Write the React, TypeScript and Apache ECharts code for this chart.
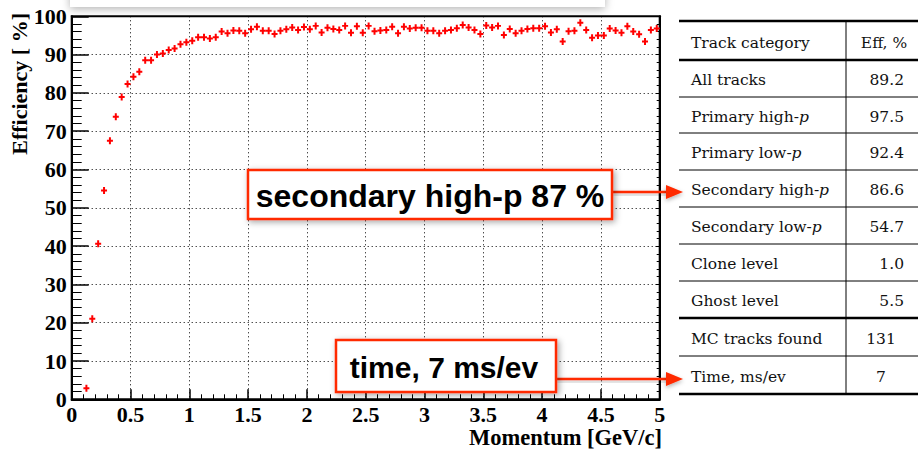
import React, { useEffect, useRef } from "react";
import * as echarts from "echarts";

// ---- data ----
const momentum = [
  0.125, 0.175, 0.225, 0.275, 0.325, 0.375, 0.425, 0.475, 0.525, 0.575,
  0.625, 0.675, 0.725, 0.775, 0.825, 0.875, 0.925, 0.975, 1.025, 1.075,
  1.125, 1.175, 1.225, 1.275, 1.325, 1.375, 1.425, 1.475, 1.525, 1.575,
  1.625, 1.675, 1.725, 1.775, 1.825, 1.875, 1.925, 1.975, 2.025, 2.075,
  2.125, 2.175, 2.225, 2.275, 2.325, 2.375, 2.425, 2.475, 2.525, 2.575,
  2.625, 2.675, 2.725, 2.775, 2.825, 2.875, 2.925, 2.975, 3.025, 3.075,
  3.125, 3.175, 3.225, 3.275, 3.325, 3.375, 3.425, 3.475, 3.525, 3.575,
  3.625, 3.675, 3.725, 3.775, 3.825, 3.875, 3.925, 3.975, 4.025, 4.075,
  4.125, 4.175, 4.225, 4.275, 4.325, 4.375, 4.425, 4.475, 4.525, 4.575,
  4.625, 4.675, 4.725, 4.775, 4.825, 4.875, 4.925, 4.975,
];
const efficiency = [
  2.9, 21.0, 40.6, 54.5, 67.5, 73.8, 78.9, 82.3, 84.2, 85.5,
  88.5, 88.5, 90.0, 90.3, 91.2, 91.6, 92.7, 93.2, 93.6, 94.5,
  94.5, 94.2, 94.5, 96.0, 95.6, 96.3, 96.2, 95.6, 96.6, 97.3,
  96.2, 96.2, 95.4, 96.2, 96.6, 97.1, 96.4, 97.2, 96.6, 97.5,
  95.8, 97.0, 96.7, 96.4, 97.5, 95.7, 97.4, 95.7, 97.5, 96.1,
  96.3, 96.4, 97.3, 95.6, 97.3, 96.8, 97.0, 97.0, 96.2, 96.2,
  95.6, 96.2, 96.4, 96.9, 97.7, 97.1, 96.4, 95.4, 97.6, 97.1,
  97.5, 95.1, 96.7, 95.6, 96.2, 96.7, 96.9, 96.9, 97.4, 95.8,
  96.6, 93.4, 96.1, 96.2, 98.3, 96.4, 94.4, 95.0, 95.0, 96.8,
  96.3, 95.7, 97.4, 96.0, 95.3, 93.4, 96.4, 96.8,
];
const tableHeader = ["Track category", "Eff, %"];
const tableCategories = [
  "All tracks",
  "Primary high-p",
  "Primary low-p",
  "Secondary high-p",
  "Secondary low-p",
  "Clone level",
  "Ghost level",
  "MC tracks found",
  "Time, ms/ev",
];
const tableValues = ["89.2", "97.5", "92.4", "86.6", "54.7", "1.0", "5.5", "131", "7"];
const calloutTexts = ["secondary high-p 87 %", "time, 7 ms/ev"];
const xAxisTitle = "Momentum [GeV/c]";
const yAxisTitle = "Efficiency [ %]";

// ---- layout constants ----
const ROW_Y = [21, 60, 97, 133, 170, 207, 244, 281, 318, 356, 394];
const THICK_ROWS = [0, 1, 8, 10];
const TABLE_L = 679;
const TABLE_R = 918;
const COL_X = 846;
const RED = "#ff2a00";

function catText(label: string) {
  if (label.endsWith("-p")) return label.slice(0, -1) + "{i|p}";
  return label;
}

export default function App() {
  const ref = useRef<HTMLDivElement>(null);
  useEffect(() => {
    if (!ref.current) return;
    const chart = echarts.init(ref.current, null, { renderer: "svg" });
    const serif = "Liberation Serif";
    const tableFont = "DejaVu Serif";
    const tfs = 15.5;

    const graphics: any[] = [];
    // top partial white box with shadow
    graphics.push({
      type: "rect",
      shape: { x: 70, y: -20, width: 535, height: 27 },
      style: { fill: "#fff", shadowBlur: 8, shadowColor: "rgba(0,0,0,0.3)", shadowOffsetY: 2 },
      z: 20,
    });
    // axis titles
    graphics.push({
      type: "text",
      x: 662,
      y: 437,
      style: {
        text: xAxisTitle, fill: "#000", font: `bold 22.5px "${serif}"`,
        textAlign: "right", textVerticalAlign: "middle",
      },
    });
    graphics.push({
      type: "text",
      x: 19,
      y: 13,
      rotation: Math.PI / 2,
      style: {
        text: yAxisTitle, fill: "#000", font: `bold 22px "${serif}"`,
        textAlign: "right", textVerticalAlign: "middle",
      },
    });
    // table lines
    ROW_Y.forEach((y, i) => {
      const thick = THICK_ROWS.includes(i);
      graphics.push({
        type: "line",
        shape: { x1: TABLE_L, y1: y, x2: TABLE_R, y2: y },
        style: { stroke: "#000", lineWidth: thick ? 2.5 : 1 },
      });
    });
    graphics.push({
      type: "line",
      shape: { x1: COL_X, y1: ROW_Y[0], x2: COL_X, y2: ROW_Y[ROW_Y.length - 1] },
      style: { stroke: "#000", lineWidth: 1 },
    });
    const richBase = {
      i: { fontFamily: tableFont, fontStyle: "italic", fontSize: tfs, fill: "#111" },
    };
    graphics.push({
      type: "text", x: 691, y: (ROW_Y[0] + ROW_Y[1]) / 2 + 2,
      style: { text: tableHeader[0], fill: "#111", font: `${tfs}px "${tableFont}"`, textVerticalAlign: "middle" },
    });
    graphics.push({
      type: "text", x: 884, y: (ROW_Y[0] + ROW_Y[1]) / 2 + 2,
      style: { text: tableHeader[1], fill: "#111", font: `${tfs}px "${tableFont}"`, textAlign: "center", textVerticalAlign: "middle" },
    });
    tableCategories.forEach((c, i) => {
      const yc = (ROW_Y[i + 1] + ROW_Y[i + 2]) / 2 + 1.5;
      graphics.push({
        type: "text", x: 691, y: yc,
        style: {
          text: catText(c), fill: "#111", font: `${tfs}px "${tableFont}"`,
          textVerticalAlign: "middle", rich: richBase,
        },
      });
      const v = tableValues[i];
      const dec = v.includes(".");
      graphics.push({
        type: "text", x: dec ? 904 : 881, y: yc,
        style: {
          text: v, fill: "#111", font: `${tfs}px "${tableFont}"`,
          textAlign: dec ? "right" : "center", textVerticalAlign: "middle",
        },
      });
    });
    // callouts
    const boxes = [
      { x: 248, y: 170, w: 364, h: 49, fs: 32, ay: 192, tx: 430 },
      { x: 336, y: 340, w: 220, h: 52, fs: 30, ay: 379, tx: 444 },
    ];
    boxes.forEach((b, i) => {
      graphics.push({
        type: "rect",
        shape: { x: b.x, y: b.y, width: b.w, height: b.h },
        style: {
          fill: "#fff", stroke: RED, lineWidth: 2.5,
          shadowBlur: 6, shadowColor: "rgba(0,0,0,0.35)", shadowOffsetX: 2, shadowOffsetY: 2,
        },
        z: 30,
      });
      graphics.push({
        type: "text", x: b.tx, y: b.y + b.h / 2 + 1,
        style: {
          text: calloutTexts[i], fill: "#000", font: `bold ${b.fs}px "Liberation Sans"`,
          textAlign: "center", textVerticalAlign: "middle",
        },
        z: 31,
      });
      graphics.push({
        type: "rect",
        shape: { x: b.x + b.w + 1, y: b.ay - 1.25, width: 668 - (b.x + b.w + 1), height: 2.5 },
        style: { fill: RED, shadowBlur: 4, shadowColor: "rgba(0,0,0,0.3)", shadowOffsetY: 2 },
        z: 29,
      });
      graphics.push({
        type: "polygon",
        shape: { points: [[666, b.ay - 7], [683, b.ay], [666, b.ay + 7]] },
        style: { fill: RED, shadowBlur: 4, shadowColor: "rgba(0,0,0,0.3)", shadowOffsetY: 2 },
        z: 30,
      });
    });

    const axisLabelStyle = {
      color: "#000", fontFamily: serif, fontWeight: "bold" as const, fontSize: 22,
    };
    const gridLine = { show: true, lineStyle: { color: "#000", type: [1, 3] as any, width: 1 } };

    chart.setOption({
      animation: false,
      backgroundColor: "#fff",
      grid: { left: 71.7, top: 16.3, right: 258.3, bottom: 49.7, show: true, borderColor: "#000", borderWidth: 2, backgroundColor: "transparent" },
      xAxis: {
        type: "value", min: 0, max: 5, interval: 0.5,
        axisLine: { show: true, onZero: false, lineStyle: { color: "#000", width: 2 } },
        axisTick: { show: true, inside: true, length: 10, lineStyle: { color: "#000", width: 1.5 } },
        minorTick: { show: true, splitNumber: 5, length: 5, lineStyle: { color: "#000", width: 1 } },
        axisLabel: { ...axisLabelStyle, margin: 4 },
        splitLine: gridLine,
      },
      yAxis: [
        {
          type: "value", min: 0, max: 100, interval: 10,
          axisLine: { show: true, onZero: false, lineStyle: { color: "#000", width: 2 } },
          axisTick: { show: true, inside: true, length: 17, lineStyle: { color: "#000", width: 1.5 } },
          minorTick: { show: true, splitNumber: 5, length: 10, lineStyle: { color: "#000", width: 1 } },
          axisLabel: { ...axisLabelStyle, margin: 5 },
          splitLine: gridLine,
        },
        {
          type: "value", min: 0, max: 100, interval: 10, position: "right",
          axisLine: { show: true, onZero: false, lineStyle: { color: "#000", width: 2 } },
          axisTick: { show: true, inside: true, length: 4, lineStyle: { color: "#000", width: 1 } },
          minorTick: { show: true, splitNumber: 5, length: 3, lineStyle: { color: "#000", width: 1 } },
          axisLabel: { show: false },
          splitLine: { show: false },
        },
      ],
      series: [
        {
          type: "scatter",
          data: momentum.map((m, i) => [m, efficiency[i]]),
          symbol: "path://M0,2.5L6,2.5L6,4.5L0,4.5Z M2,0L4,0L4,7L2,7Z",
          symbolSize: [6, 7],
          itemStyle: { color: "#ff0000", opacity: 1 },
          z: 5,
        },
      ],
      graphic: graphics,
    });
    return () => chart.dispose();
  }, []);
  return (
    <div
      ref={ref}
      style={{ position: "fixed", left: 0, top: 0, width: 918, height: 449 }}
    />
  );
}
